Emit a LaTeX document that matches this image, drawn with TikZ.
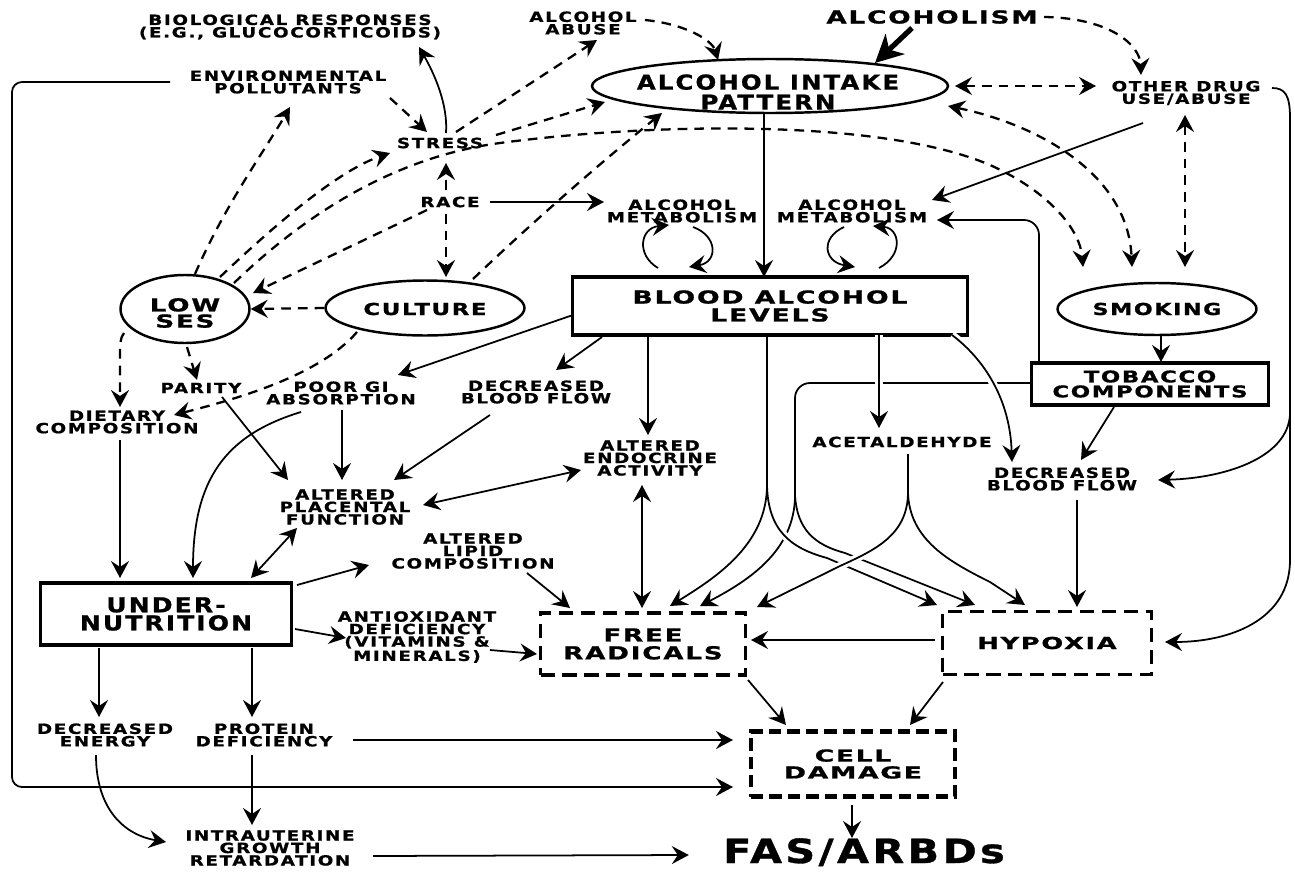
\documentclass[tikz,border=0pt]{standalone}
\usepackage{fontspec}
\newfontfamily\lbl{DejaVu Sans}[FakeBold=1]
\newcommand\fst[4]{\lbl\bfseries\addfontfeatures{FakeStretch=#3,LetterSpace=#4}\fontsize{#1pt}{#2pt}\selectfont}
\usetikzlibrary{arrows.meta,shapes.geometric,calc}
\begin{document}
\begin{tikzpicture}[x=0.02cm,y=-0.02cm,
  >={Stealth[length=0.34cm,width=0.36cm,inset=0.12cm]},
  lab/.style={font={\fst{8}{7.1}{1.3}{12}},align=center,inner sep=1pt},
  ell/.style={ellipse,draw,line width=1.4pt,inner sep=0pt},
  sbox/.style={draw,line width=1.9pt,inner sep=0pt,align=center},
  dbox/.style={draw,line width=1.8pt,dash pattern=on 8pt off 4.5pt,inner sep=0pt,align=center},
  con/.style={->,line width=1pt},
  dcon/.style={->,line width=1.3pt,dash pattern=on 5.5pt off 4pt},
  halo/.style={preaction={draw=white,line width=4.5pt,-}}
]
\useasboundingbox (0,0) rectangle (1295,872);
% ---------- nodes
\node[lab] (bio) at (290,27) {BIOLOGICAL RESPONSES\\(E.G., GLUCOCORTICOIDS)};
\node[lab] (abuse) at (583,23) {ALCOHOL\\ABUSE};
\node[lab,font={\fst{10.2}{12}{1.47}{10}}] (alcoholism) at (932,17) {ALCOHOLISM};
\node[lab] (env) at (288,82) {ENVIRONMENTAL\\POLLUTANTS};
\node[ell,minimum width=7.12cm,minimum height=1.08cm] (intake) at (770,86) {};
\node[lab,font={\fst{11.7}{11.4}{1.19}{10}}] (intakeT) at (768,92) {ALCOHOL INTAKE\\PATTERN};
\node[lab] (other) at (1186,93) {OTHER DRUG\\USE/ABUSE};
\node[lab] (stress) at (440,143) {STRESS};
\node[lab] (race) at (450,202) {RACE};
\node[lab] (metL) at (682,211) {ALCOHOL\\METABOLISM};
\node[lab] (metR) at (852,211) {ALCOHOL\\METABOLISM};
\node[ell,minimum width=2.58cm,minimum height=1.36cm] (lowses) at (185,309) {};
\node[lab,font={\fst{10.2}{9.2}{1.46}{10}}] (lowsesT) at (185,313) {LOW\\SES};
\node[ell,minimum width=3.98cm,minimum height=1.1cm] (culture) at (425,308) {};
\node[lab,font={\fst{9.4}{10}{1.38}{10}}] (cultureT) at (425,309) {CULTURE};
\node[sbox,minimum width=7.9cm,minimum height=1.16cm,font={\fst{10.2}{10.2}{1.49}{10}}] (bal) at (770,306) {BLOOD ALCOHOL\\LEVELS};
\node[ell,minimum width=3.98cm,minimum height=1.04cm] (smoking) at (1157,309) {};
\node[lab,font={\fst{9.4}{10}{1.34}{10}}] (smokingT) at (1157,309) {SMOKING};
\node[sbox,minimum width=4.74cm,minimum height=0.84cm,font={\fst{9.2}{8.5}{1.41}{10}}] (tobacco) at (1150,384) {TOBACCO\\COMPONENTS};
\node[lab] (parity) at (201,388) {PARITY};
\node[lab] (poorgi) at (341,393) {POOR GI\\ABSORPTION};
\node[lab] (dbfL) at (536,392) {DECREASED\\BLOOD FLOW};
\node[lab] (diet) at (117,422) {DIETARY\\COMPOSITION};
\node[lab] (placenta) at (345,507) {ALTERED\\PLACENTAL\\FUNCTION};
\node[lab] (endo) at (650,458) {ALTERED\\ENDOCRINE\\ACTIVITY};
\node[lab] (acet) at (902,442) {ACETALDEHYDE};
\node[lab] (dbfR) at (1062,479) {DECREASED\\BLOOD FLOW};
\node[lab] (lipid) at (473,551) {ALTERED\\LIPID\\COMPOSITION};
\node[sbox,minimum width=5.02cm,minimum height=1.24cm,font={\fst{11.7}{10.3}{1.22}{10}}] (under) at (166,614) {UNDER-\\NUTRITION};
\node[lab] (antiox) at (417,637) {ANTIOXIDANT\\DEFICIENCY\\(VITAMINS \&\\MINERALS)};
\node[dbox,minimum width=4.1cm,minimum height=1.24cm,font={\fst{10.2}{10.2}{1.46}{10}}] (free) at (643,644) {FREE\\RADICALS};
\node[dbox,minimum width=4.18cm,minimum height=1.26cm,font={\fst{9.4}{10}{1.56}{10}}] (hypoxia) at (1047,643) {HYPOXIA};
\node[lab] (energy) at (105,735) {DECREASED\\ENERGY};
\node[lab] (protein) at (264,735) {PROTEIN\\DEFICIENCY};
\node[dbox,line width=2.3pt,dash pattern=on 7pt off 3.5pt,minimum width=4.08cm,minimum height=1.3cm,font={\fst{9.4}{9.6}{1.61}{10}}] (cell) at (853,764) {CELL\\DAMAGE};
\node[lab] (iugr) at (270,848) {INTRAUTERINE\\GROWTH\\RETARDATION};
\node[lab,font={\fst{19}{20}{1.24}{10}},anchor=base,inner sep=0pt] (fas) at (864,863) {FAS/ARBDs};
% ---------- dashed connectors
\draw[dcon] ($(abuse)+(62,-3)$) .. controls (685,24) and (712,40) .. ($(intake)+(-52,-26)$);
\draw[dcon] ($(alcoholism)+(112,0)$) .. controls (1110,18) and (1140,45) .. ($(other)+(-45,-18)$);
\draw[dcon,<->] ($(intake)+(185,0)$) -- ($(other)+(-90,-7)$);
\draw[dcon] ($(env)+(102,16)$) -- ($(stress)+(-13,-11)$);
\draw[dcon] ($(stress)+(16,-11)$) -- ($(abuse)+(14,17)$);
\draw[dcon] ($(stress)+(56,-8)$) -- ($(intake)+(-165,16)$);
\draw[dcon] ($(lowses)+(10,-35)$) .. controls (225,205) and (265,150) .. ($(env)+(2,25)$);
\draw[dcon] ($(lowses)+(35,-32)$) .. controls (280,220) and (340,170) .. ($(stress)+(-50,10)$);
\draw[dcon] ($(lowses)+(49,-26)$) .. controls (320,200) and (410,155) .. (500,143) .. controls (650,123) and (880,118) .. (990,165) .. controls (1050,192) and (1080,230) .. ($(smoking)+(-74,-42)$);
\draw[dcon] ($(race)+(-23,8)$) -- ($(lowses)+(68,-16)$);
\draw[dcon] ($(race)+(-4,-12)$) -- ($(stress)+(6,20)$);
\draw[dcon] ($(race)+(-4,12)$) -- ($(culture)+(21,-31)$);
\draw[dcon] (culture.west) -- (lowses.east);
\draw[dcon] ($(culture)+(48,-29)$) .. controls (540,215) and (610,155) .. ($(intake)+(-108,27)$);
\draw[dcon] ($(lowses)+(-61,24)$) .. controls (120,338) and (120,345) .. (120,355) -- ($(diet)+(3,-15)$);
\draw[dcon] ($(lowses)+(2,38)$) -- ($(parity)+(-4,-8)$);
\draw[dcon] ($(culture)+(-68,24)$) .. controls (320,375) and (240,398) .. ($(diet)+(57,-7)$);
\draw[dcon,<->] ($(intake)+(178,20)$) .. controls (1040,125) and (1128,175) .. ($(smoking)+(-25,-42)$);
\draw[dcon,<->] ($(other)+(-1,22)$) -- ($(smoking)+(28,-42)$);
% ---------- solid connectors
\draw[line width=3pt,-{Stealth[length=0.55cm,width=0.55cm,inset=0.16cm]}] ($(alcoholism)+(-20,11)$) -- ($(intake)+(105,-23)$);
\draw[con] ($(stress)+(6,-10)$) .. controls (448,105) and (435,75) .. ($(bio)+(129,20)$);
\draw[con] ($(race)+(40,0)$) -- ($(metL)+(-78,-9)$);
\draw[con] ($(intake)+(-6,27)$) -- ($(bal)+(-6,-29)$);
\draw[con] ($(other)+(-43,30)$) -- ($(metR)+(80,-11)$);
\draw[con,rounded corners=0.3cm] ($(tobacco)+(-111,-21)$) |- ($(metR)+(85,9)$);
\draw[con] ($(bal)+(-197,9)$) -- ($(poorgi)+(57,-18)$);
\draw[con] ($(bal)+(-168,31)$) -- ($(dbfL)+(20,-22)$);
\draw[con] ($(bal)+(-122,29)$) -- ($(endo)+(-2,-23)$);
\draw[con] ($(smoking)+(4,26)$) -- ($(tobacco)+(11,-22)$);
\draw[con] ($(tobacco)+(-36,23)$) -- ($(dbfR)+(19,-19)$);
\coordinate (redge) at (1290,410);
\draw[con] ($(other)+(86,-5)$) .. controls (1285,88) and (1290,95) .. (1290,118) -- (redge) .. controls (1292,455) and (1230,478) .. ($(dbfR)+(96,1)$);
\draw[con] (redge) -- (1290,560) .. controls (1290,620) and (1230,642) .. ($(hypoxia)+(118,-1)$);
% metabolism cycles
\draw[con] ($(metL)+(-24,57)$) .. controls (636,255) and (640,228) .. ($(metL)+(-13,14)$);
\draw[con] ($(metL)+(11,16)$) .. controls (718,236) and (718,262) .. ($(metL)+(7,56)$);
\draw[con] ($(metR)+(-8,16)$) .. controls (820,238) and (824,262) .. ($(metR)+(3,56)$);
\draw[con] ($(metR)+(27,57)$) .. controls (904,255) and (900,228) .. ($(metR)+(21,15)$);
% left part
\draw[con] ($(poorgi)+(1,17)$) -- ($(placenta)+(-3,-27)$);
\draw[con] ($(parity)+(21,9)$) -- ($(placenta)+(-57,-27)$);
\draw[con] ($(dbfL)+(-46,23)$) -- ($(placenta)+(49,-27)$);
\draw[con] ($(poorgi)+(-40,19)$) .. controls (225,435) and (193,480) .. ($(under)+(27,-36)$);
\draw[con] ($(diet)+(3,18)$) -- ($(under)+(-46,-36)$);
\draw[con,<->] ($(placenta)+(78,-2)$) -- ($(endo)+(-69,12)$);
\draw[con,<->] ($(placenta)+(-48,21)$) -- ($(under)+(85,-36)$);
\draw[con] ($(under)+(131,-29)$) -- ($(lipid)+(-104,14)$);
\draw[con] ($(lipid)+(54,22)$) -- ($(free)+(-73,-36)$);
\draw[con,<->] ($(endo)+(-8,27)$) -- ($(free)+(-1,-36)$);
\draw[con] ($(under)+(129,15)$) -- ($(antiox)+(-71,1)$);
\draw[con] ($(antiox)+(73,13)$) -- ($(free)+(-106,10)$);
\draw[con] ($(under)+(-67,34)$) -- ($(energy)+(-6,-18)$);
\draw[con] ($(under)+(86,34)$) -- ($(protein)+(-12,-18)$);
\draw[con] ($(protein)+(89,5)$) -- ($(cell)+(-120,-24)$);
\coordinate (fTL) at (12,82);
\coordinate (fBL) at (12,787);
\draw[con,rounded corners=0.2cm] ($(env)+(-118,0)$) -- (fTL) -- (fBL) -- ($(cell)+(-120,23)$);
\draw[con] ($(energy)+(-9,20)$) .. controls (96,810) and (125,835) .. ($(iugr)+(-104,-6)$);
\draw[con] ($(protein)+(-12,20)$) -- ($(iugr)+(-18,-23)$);
\draw[con] ($(iugr)+(103,8)$) -- ($(fas.base west)+(-34,-8)$);
\draw[con] ($(cell)+(-1,41)$) -- ($(fas.base)+(-12,-25)$);
\draw[con] ($(free)+(105,36)$) -- ($(cell)+(-67,-39)$);
\draw[con] ($(hypoxia)+(-104,39)$) -- ($(cell)+(57,-39)$);
\draw[con] ($(hypoxia)+(-112,-3)$) -- ($(free)+(108,-4)$);
\draw[con] ($(dbfR)+(15,21)$) -- ($(hypoxia)+(30,-36)$);
% forks
\coordinate (bfork) at (795,495);
\draw[line width=1pt,rounded corners=0.3cm] ($(tobacco)+(-120,-1)$) -| (bfork);
\draw[con] (bfork) .. controls (795,550) and (750,580) .. ($(free)+(57,-38)$);
\draw[con] (bfork) .. controls (797,530) and (815,545) .. (845,553) -- ($(hypoxia)+(-72,-38)$);
\draw[con,halo] ($(bal)+(109,29)$) -- ($(acet)+(-23,-14)$);
\draw[con,halo] ($(bal)+(182,29)$) .. controls (985,360) and (1010,400) .. ($(dbfR)+(-50,-17)$);
\coordinate (afork) at (767,485);
\draw[con,halo] (afork) .. controls (768,530) and (790,548) .. (827,558) -- ($(hypoxia)+(-110,-38)$);
\draw[con] ($(bal)+(-3,29)$) -- (afork) .. controls (767,545) and (715,578) .. ($(free)+(27,-38)$);
\coordinate (cfork) at (908,492);
\draw[con,halo] (cfork) .. controls (908,535) and (875,550) .. (840,566) -- ($(free)+(114,-37)$);
\draw[con] ($(acet)+(6,12)$) -- (cfork) .. controls (909,540) and (950,562) .. (990,582) -- ($(hypoxia)+(-22,-38)$);
\end{tikzpicture}
\end{document}
